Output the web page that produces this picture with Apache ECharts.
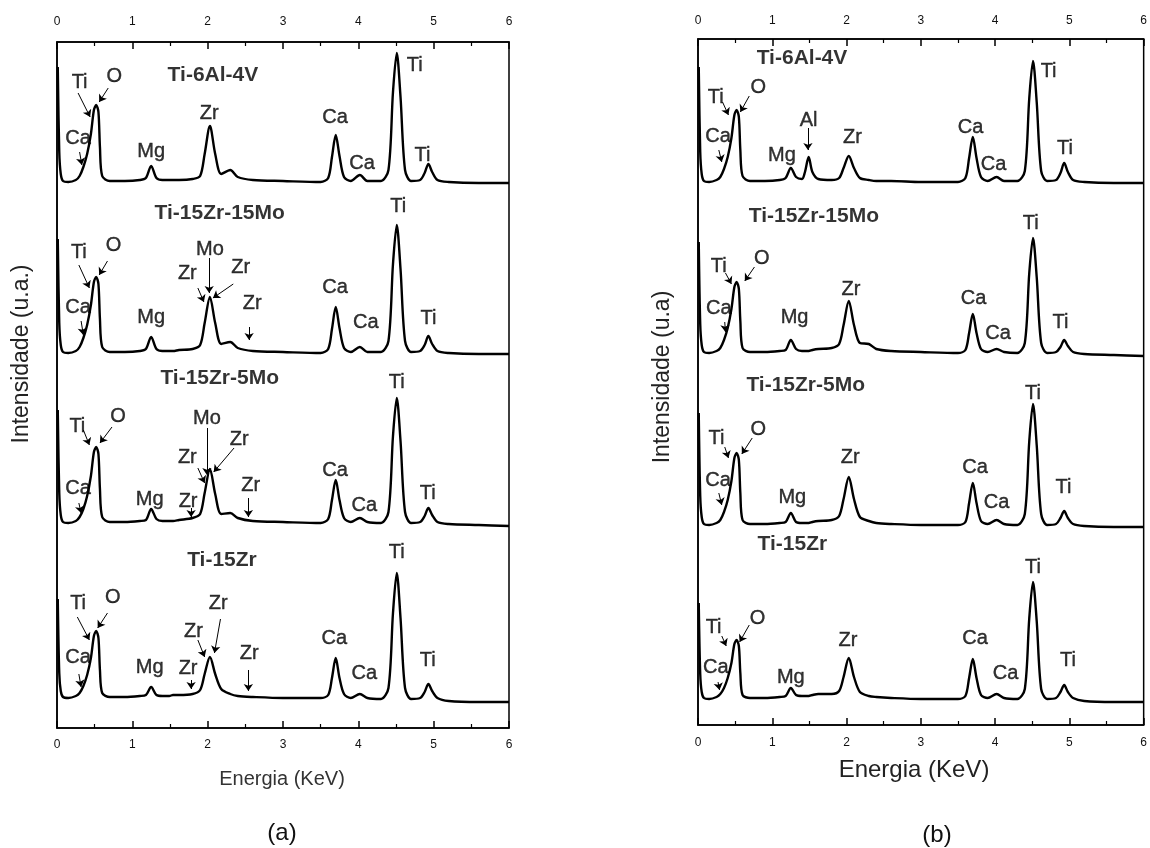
<!DOCTYPE html>
<html lang="pt">
<head>
  <meta charset="utf-8" />
  <title>EDS - Ti ligas</title>
  <script src="https://cdn.jsdelivr.net/npm/echarts@6/dist/echarts.min.js"></script>
  <style>
    html, body { margin: 0; padding: 0; background: #fff; }
    #chart { width: 1150px; height: 848px; }
  </style>
</head>
<body>
<div id="chart"></div>
<script>
var energia = [0.01, 0.03, 0.05, 0.08, 0.15, 0.25, 0.30, 0.35, 0.40, 0.45,
  0.49, 0.52, 0.55, 0.57, 0.60, 0.70, 0.90, 1.10, 1.18, 1.25,
  1.32, 1.40, 1.44, 1.49, 1.54, 1.62, 1.80, 1.90, 1.96, 2.03,
  2.10, 2.18, 2.30, 2.40, 2.60, 3.00, 3.50, 3.60, 3.65, 3.70,
  3.75, 3.81, 3.90, 4.02, 4.12, 4.30, 4.40, 4.46, 4.51, 4.56,
  4.62, 4.70, 4.82, 4.88, 4.93, 4.98, 5.05, 5.20, 5.60, 6.00];

var ligas = ['Ti-6Al-4V', 'Ti-15Zr-15Mo', 'Ti-15Zr-5Mo', 'Ti-15Zr'];

// linha de base de cada espectro (empilhados, u.a.)
var baseA = [546, 375, 205, 30];
var baseB = [543, 372, 200, 26];

// (a) intensidade acima da linha de base
var a_Ti6Al4V = [115, 30, 8, 1, 0, 2, 6, 15, 28, 48, 72, 77, 70, 35, 6, 1, 1, 2, 4, 16,
  4, 2, 2, 2, 2, 2, 3, 6, 28, 56, 28, 8, 12, 5, 2, 1, 0, 4, 25, 47,
  26, 5, 1, 7, 1, 1, 12, 90, 129, 85, 12, 1, 2, 9, 18, 10, 2, 0, -1, -1];
var a_Ti15Zr15Mo = [114, 30, 8, 1, 0, 2, 6, 15, 28, 48, 71, 76, 69, 34, 6, 1, 1, 2, 4, 16,
  4, 2, 2, 2, 2, 3, 4, 8, 30, 56, 30, 9, 11, 5, 2, 1, 0, 4, 24, 46,
  25, 5, 1, 6, 1, 1, 12, 89, 128, 84, 12, 1, 2, 8, 17, 9, 2, 0, -1, -1];
var a_Ti15Zr5Mo = [113, 30, 8, 1, 0, 2, 6, 14, 27, 47, 71, 76, 69, 34, 6, 1, 1, 2, 3, 14,
  4, 2, 2, 2, 2, 3, 5, 9, 30, 54, 29, 9, 10, 5, 2, 1, 0, 4, 23, 43,
  23, 5, 1, 5, 1, 0, 11, 87, 125, 82, 11, 0, 1, 7, 15, 8, 1, -1, -2, -3];
var a_Ti15Zr = [99, 25, 7, 1, 0, 2, 5, 12, 23, 40, 62, 67, 60, 28, 5, 1, 1, 2, 3, 11,
  3, 2, 2, 2, 3, 3, 4, 8, 24, 41, 24, 9, 4, 2, 1, 0, 0, 3, 20, 40,
  20, 4, 0, 4, 0, -1, 10, 85, 125, 80, 10, -1, 0, 6, 14, 7, 0, -3, -4, -4];

// (b)
var b_Ti6Al4V = [115, 30, 8, 1, 0, 2, 5, 13, 25, 44, 67, 72, 65, 32, 6, 1, 1, 2, 4, 14,
  5, 3, 10, 25, 10, 3, 2, 4, 14, 26, 14, 4, 2, 1, 1, 0, 0, 4, 24, 45,
  24, 5, 1, 5, 1, 1, 11, 84, 121, 80, 11, 1, 2, 9, 19, 10, 2, 0, -1, -1];
var b_Ti15Zr15Mo = [111, 29, 8, 1, 0, 2, 5, 13, 25, 44, 66, 71, 64, 32, 5, 1, 1, 2, 3, 13,
  4, 2, 2, 2, 3, 4, 5, 9, 28, 52, 28, 10, 9, 4, 2, 1, 0, 3, 20, 39,
  20, 4, 1, 4, 1, 0, 10, 80, 115, 76, 10, 0, 1, 6, 13, 7, 1, -1, -2, -3];
var b_Ti15Zr5Mo = [112, 29, 8, 1, 0, 2, 5, 13, 25, 44, 67, 72, 65, 32, 5, 1, 1, 2, 3, 12,
  3, 2, 2, 2, 3, 4, 5, 9, 26, 48, 26, 8, 4, 2, 1, 0, 0, 3, 22, 42,
  22, 4, 1, 5, 1, 0, 11, 84, 121, 80, 11, 0, 1, 7, 14, 7, 1, -1, -2, -2];
var b_Ti15Zr = [96, 25, 7, 1, 0, 2, 5, 11, 21, 36, 55, 59, 53, 26, 4, 1, 1, 2, 3, 11,
  4, 3, 3, 3, 4, 5, 5, 8, 22, 41, 22, 7, 3, 2, 1, 0, 0, 3, 21, 40,
  21, 4, 1, 5, 1, 0, 10, 81, 117, 78, 10, 0, 1, 7, 14, 7, 1, -2, -3, -3];

var specA = [a_Ti6Al4V, a_Ti15Zr15Mo, a_Ti15Zr5Mo, a_Ti15Zr];
var specB = [b_Ti6Al4V, b_Ti15Zr15Mo, b_Ti15Zr5Mo, b_Ti15Zr];

// nomes das ligas [texto, keV, u.a.]
var titulosA = [['Ti-6Al-4V', 2.07, 653], ['Ti-15Zr-15Mo', 2.16, 515], ['Ti-15Zr-5Mo', 2.16, 350], ['Ti-15Zr', 2.19, 168]];
var titulosB = [['Ti-6Al-4V', 1.40, 667], ['Ti-15Zr-15Mo', 1.56, 509], ['Ti-15Zr-5Mo', 1.45, 340], ['Ti-15Zr', 1.27, 181]];

// elementos [texto, keV, u.a.]
var elemA = [
  ['Ti', 0.30, 646], ['O', 0.76, 652], ['Ca', 0.28, 590], ['Mg', 1.25, 577], ['Zr', 2.02, 615], ['Ca', 3.69, 611], ['Ca', 4.05, 565], ['Ti', 4.75, 663], ['Ti', 4.85, 573],
  ['Ti', 4.53, 522], ['Ti', 0.29, 476], ['O', 0.75, 483], ['Ca', 0.28, 421], ['Mg', 1.25, 411], ['Mo', 2.03, 479], ['Zr', 1.73, 455], ['Zr', 2.44, 461], ['Zr', 2.59, 425], ['Ca', 3.69, 441], ['Ca', 4.10, 406], ['Ti', 4.93, 410],
  ['Ti', 4.51, 346], ['Ti', 0.27, 302], ['O', 0.81, 312], ['Ca', 0.28, 240], ['Mg', 1.23, 229], ['Zr', 1.74, 227], ['Mo', 1.99, 310], ['Zr', 1.73, 271], ['Zr', 2.42, 289], ['Zr', 2.57, 243], ['Ca', 3.69, 258], ['Ca', 4.08, 223], ['Ti', 4.92, 235],
  ['Ti', 4.51, 176], ['Ti', 0.28, 125], ['O', 0.74, 131], ['Ca', 0.28, 71], ['Mg', 1.23, 61], ['Zr', 1.74, 60], ['Zr', 1.81, 97], ['Zr', 2.14, 125], ['Zr', 2.55, 75], ['Ca', 3.68, 90], ['Ca', 4.08, 55], ['Ti', 4.92, 68]
];
var elemB = [
  ['Ti', 0.24, 628], ['O', 0.81, 638], ['Ca', 0.27, 589], ['Mg', 1.13, 570], ['Al', 1.49, 605], ['Zr', 2.08, 588], ['Ca', 3.67, 598], ['Ca', 3.98, 561], ['Ti', 4.72, 654], ['Ti', 4.94, 577],
  ['Ti', 4.48, 502], ['Ti', 0.28, 459], ['O', 0.86, 467], ['Ca', 0.28, 417], ['Mg', 1.30, 408], ['Zr', 2.06, 436], ['Ca', 3.71, 427], ['Ca', 4.04, 392], ['Ti', 4.88, 403],
  ['Ti', 4.51, 332], ['Ti', 0.25, 287], ['O', 0.81, 296], ['Ca', 0.27, 245], ['Mg', 1.27, 228], ['Zr', 2.05, 268], ['Ca', 3.73, 258], ['Ca', 4.02, 223], ['Ti', 4.92, 238],
  ['Ti', 4.51, 158], ['Ti', 0.21, 98], ['O', 0.80, 107], ['Ca', 0.24, 58], ['Mg', 1.25, 48], ['Zr', 2.02, 85], ['Ca', 3.73, 87], ['Ca', 4.14, 52], ['Ti', 4.98, 65]
];

// setas [keV1, ua1, keV2, ua2]
var setasA = [
  [0.28, 635, 0.44, 611], [0.68, 640, 0.56, 626], [0.30, 576, 0.33, 563],
  [0.29, 463, 0.43, 440], [0.67, 467, 0.56, 453], [0.32, 407, 0.35, 393], [2.02, 470, 2.02, 435], [1.87, 440, 1.95, 426], [2.34, 444, 2.07, 430], [2.55, 401, 2.55, 388],
  [0.35, 298, 0.43, 283], [0.73, 301, 0.57, 285], [0.29, 225, 0.32, 215], [1.78, 220, 1.78, 211], [1.99, 300, 1.99, 253], [1.87, 260, 1.96, 245], [2.35, 280, 2.08, 256], [2.54, 230, 2.54, 211],
  [0.27, 111, 0.43, 88], [0.67, 115, 0.54, 100], [0.29, 54, 0.32, 41], [1.78, 48, 1.78, 39], [1.87, 88, 1.96, 71], [2.17, 109, 2.09, 75], [2.54, 58, 2.54, 37]
];
var setasB = [
  [0.33, 623, 0.41, 610], [0.69, 629, 0.57, 613], [0.28, 575, 0.32, 563], [1.48, 597, 1.48, 575],
  [0.37, 452, 0.45, 441], [0.76, 458, 0.63, 444], [0.36, 403, 0.37, 393],
  [0.36, 278, 0.41, 267], [0.73, 287, 0.59, 271], [0.28, 232, 0.32, 220],
  [0.32, 89, 0.38, 79], [0.69, 100, 0.56, 83], [0.27, 43, 0.29, 35]
];

var FONT = '"Liberation Sans", Arial, sans-serif';

function eixoX(grid, pos, margin) {
  return {
    type: 'value', gridIndex: grid, position: pos, min: 0, max: 6, interval: 1,
    axisLine: { show: true, onZero: false, lineStyle: { color: '#000', width: 1.5 } },
    axisTick: { show: true, inside: true, length: 7, lineStyle: { color: '#000', width: 1.5 } },
    minorTick: { show: true, splitNumber: 2, length: 4, lineStyle: { color: '#000', width: 1.2 } },
    axisLabel: { show: true, margin: margin, fontSize: 12, color: '#111', fontFamily: FONT },
    splitLine: { show: false }
  };
}
function eixoY(grid) {
  return {
    type: 'value', gridIndex: grid, min: 0, max: 686,
    axisLine: { show: true, lineStyle: { color: '#000', width: 1.5 } },
    axisTick: { show: false }, axisLabel: { show: false }, splitLine: { show: false }
  };
}

var series = [];
function addPainel(xi, yi, spec, base, titulos, elem, setas) {
  spec.forEach(function (h, k) {
    series.push({
      type: 'line', name: ligas[k], xAxisIndex: xi, yAxisIndex: yi,
      showSymbol: false, smooth: 0.3, silent: true,
      lineStyle: { color: '#000', width: 2.4, join: 'round' },
      data: energia.map(function (e, i) { return [e, base[k] + h[i]]; })
    });
  });
  series.push({
    type: 'scatter', xAxisIndex: xi, yAxisIndex: yi, symbolSize: 0, silent: true,
    label: { show: true, position: 'inside', formatter: '{b}', fontSize: 20, color: '#000',
      fontFamily: FONT, textBorderColor: '#000', textBorderWidth: 0.4 },
    data: elem.map(function (t) { return { name: t[0], value: [t[1], t[2]] }; })
  });
  series.push({
    type: 'scatter', xAxisIndex: xi, yAxisIndex: yi, symbolSize: 0, silent: true,
    label: { show: true, position: 'inside', formatter: '{b}', fontSize: 21, fontWeight: 'bold',
      color: '#000', fontFamily: FONT },
    data: titulos.map(function (t) { return { name: t[0], value: [t[1], t[2]] }; })
  });
  series.push({
    type: 'lines', coordinateSystem: 'cartesian2d', xAxisIndex: xi, yAxisIndex: yi, silent: true,
    symbol: ['none', 'arrow'], symbolSize: [0, 7],
    lineStyle: { color: '#000', width: 1, opacity: 1 },
    data: setas.map(function (s) { return { coords: [[s[0], s[1]], [s[2], s[3]]] }; })
  });
}
addPainel(0, 0, specA, baseA, titulosA, elemA, setasA);
addPainel(2, 1, specB, baseB, titulosB, elemB, setasB);

var chart = echarts.init(document.getElementById('chart'), null, { renderer: 'canvas' });
chart.setOption({
  animation: false,
  backgroundColor: '#fff',
  grid: [
    { left: 57, top: 42, width: 452, height: 686, show: true, borderColor: '#000', borderWidth: 1.5 },
    { left: 698, top: 39, width: 451, height: 686, show: true, borderColor: '#000', borderWidth: 1.5 }
  ],
  xAxis: [eixoX(0, 'bottom', 11), eixoX(0, 'top', 14), eixoX(1, 'bottom', 12), eixoX(1, 'top', 12)],
  yAxis: [eixoY(0), eixoY(1)],
  series: series,
  graphic: [
    { type: 'text', x: 22, y: 354, rotation: Math.PI / 2,
      style: { text: 'Intensidade (u.a.)', font: '23px ' + FONT, fill: '#222', align: 'center', verticalAlign: 'middle' } },
    { type: 'text', x: 663, y: 377, rotation: Math.PI / 2,
      style: { text: 'Intensidade (u.a)', font: '23px ' + FONT, fill: '#222', align: 'center', verticalAlign: 'middle' } },
    { type: 'text', x: 282, y: 779,
      style: { text: 'Energia (KeV)', font: '20px ' + FONT, fill: '#333', align: 'center', verticalAlign: 'middle' } },
    { type: 'text', x: 914, y: 770,
      style: { text: 'Energia (KeV)', font: '24px ' + FONT, fill: '#222', align: 'center', verticalAlign: 'middle' } },
    { type: 'text', x: 282, y: 833,
      style: { text: '(a)', font: '24px ' + FONT, fill: '#111', align: 'center', verticalAlign: 'middle' } },
    { type: 'text', x: 937, y: 835,
      style: { text: '(b)', font: '24px ' + FONT, fill: '#111', align: 'center', verticalAlign: 'middle' } }
  ]
});
</script>
</body>
</html>
